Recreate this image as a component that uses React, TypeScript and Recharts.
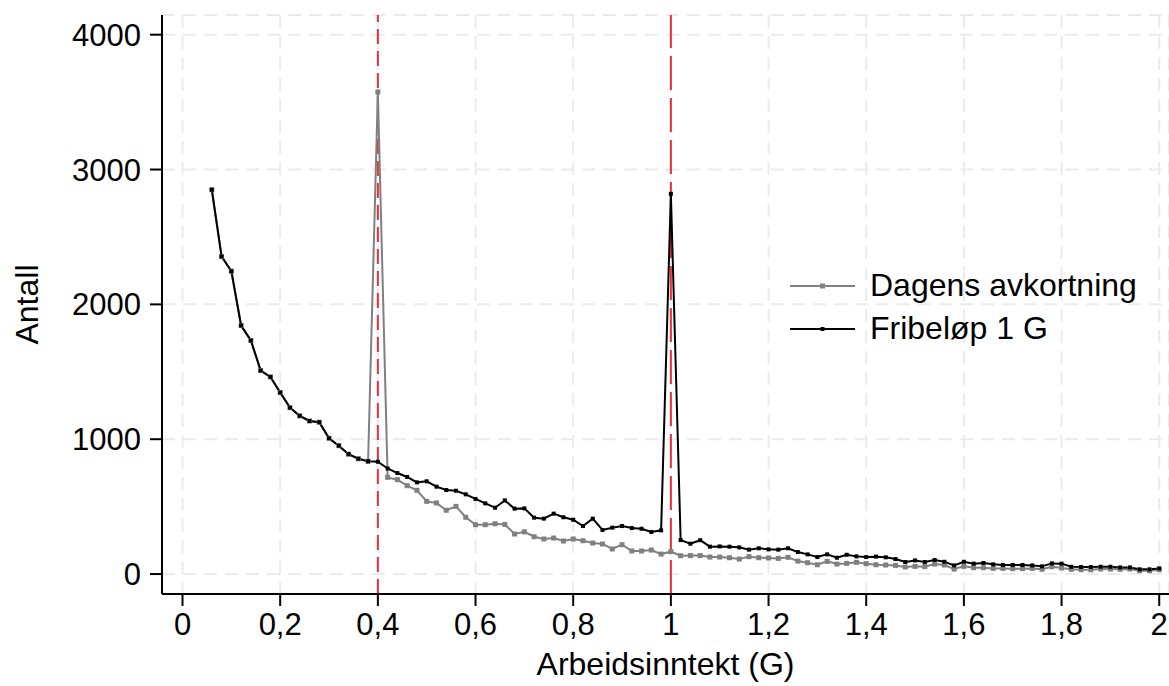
import React from "react";
import { LineChart, Line, XAxis, YAxis, CartesianGrid, ReferenceLine } from "recharts";

const xValues = [
  0.06, 0.08, 0.1, 0.12, 0.14, 0.16, 0.18, 0.2, 0.22, 0.24, 0.26, 0.28, 0.3, 0.32, 0.34, 0.36, 0.38,
  0.4, 0.42, 0.44, 0.46, 0.48, 0.5, 0.52, 0.54, 0.56, 0.58, 0.6, 0.62, 0.64, 0.66, 0.68, 0.7, 0.72,
  0.74, 0.76, 0.78, 0.8, 0.82, 0.84, 0.86, 0.88, 0.9, 0.92, 0.94, 0.96, 0.98, 1.0, 1.02, 1.04, 1.06,
  1.08, 1.1, 1.12, 1.14, 1.16, 1.18, 1.2, 1.22, 1.24, 1.26, 1.28, 1.3, 1.32, 1.34, 1.36, 1.38, 1.4,
  1.42, 1.44, 1.46, 1.48, 1.5, 1.52, 1.54, 1.56, 1.58, 1.6, 1.62, 1.64, 1.66, 1.68, 1.7, 1.72, 1.74,
  1.76, 1.78, 1.8, 1.82, 1.84, 1.86, 1.88, 1.9, 1.92, 1.94, 1.96, 1.98, 2.0,
];

const fribelop = [
  2850, 2355, 2246, 1843, 1732, 1509, 1462, 1346, 1234, 1173, 1135, 1126, 1007, 952, 889, 855, 836,
  833, 783, 749, 720, 680, 688, 648, 623, 618, 591, 557, 524, 492, 546, 485, 487, 418,
  411, 448, 421, 403, 356, 411, 327, 344, 356, 341, 336, 312, 324, 2820, 252, 225, 251,
  203, 205, 203, 198, 181, 191, 183, 181, 191, 163, 146, 126, 146, 121, 143, 131, 126,
  129, 124, 111, 89, 101, 89, 104, 91, 64, 91, 77, 82, 72, 67, 67, 67, 64,
  57, 79, 77, 54, 52, 52, 54, 54, 49, 49, 35, 35, 42,
];

const dagens = [
  2850, 2355, 2246, 1843, 1732, 1509, 1462, 1346, 1234, 1173, 1135, 1126, 1007, 952, 889, 855, 836,
  3575, 717, 700, 655, 621, 539, 527, 473, 502, 421, 366, 366, 373, 368, 297, 313, 277,
  260, 267, 245, 260, 247, 230, 223, 186, 218, 171, 171, 178, 148, 166, 136, 137, 137,
  126, 126, 121, 111, 129, 121, 119, 116, 124, 96, 84, 69, 94, 74, 79, 87, 77,
  69, 67, 64, 52, 57, 55, 74, 67, 37, 57, 47, 47, 42, 42, 40, 40, 42,
  35, 54, 45, 35, 32, 32, 37, 37, 35, 37, 25, 25, 32,
];

const xTicks = [0, 0.2, 0.4, 0.6, 0.8, 1, 1.2, 1.4, 1.6, 1.8, 2];
const yTicks = [0, 1000, 2000, 3000, 4000];
const refLines = [0.4, 1];

const seriesNames = { dagens: "Dagens avkortning", fribelop: "Fribeløp 1 G" };

const data = xValues.map((x, i) => ({ x, dagens: dagens[i], fribelop: fribelop[i] }));

const FONT = "'Liberation Sans', Arial, sans-serif";

const makeDot = (color: string, size: number) => (props: any) => {
  const { cx, cy, index } = props;
  if (cx == null || cy == null) return <g key={`d-${index}`} />;
  return <rect key={`d-${index}`} x={cx - size / 2} y={cy - size / 2} width={size} height={size} fill={color} />;
};

const legendItems = [
  { name: seriesNames.dagens, color: "#808080", size: 5 },
  { name: seriesNames.fribelop, color: "#000000", size: 4 },
];

export default function App() {
  return (
    <div style={{ position: "absolute", left: 0, top: 0, width: 1169, height: 686, background: "#fff" }}>
      <LineChart width={1169} height={686} data={data} margin={{ top: 15, right: 0, bottom: 0, left: 0 }}>
        <CartesianGrid stroke="#ebebeb" strokeWidth={2} strokeDasharray="13 8" />
        <XAxis
          dataKey="x"
          type="number"
          domain={[-0.042, 2.02]}
          ticks={xTicks}
          allowDataOverflow
          tickFormatter={(v: number) => String(v).replace(".", ",")}
          stroke="#000"
          strokeWidth={2}
          tickSize={12}
          tickMargin={7}
          height={92}
          tick={{ fill: "#000", fontSize: 31, fontFamily: FONT }}
          label={{ value: "Arbeidsinntekt (G)", position: "insideBottom", offset: 11, fill: "#000", fontSize: 32, fontFamily: FONT }}
        />
        <YAxis
          type="number"
          domain={[-148, 4146]}
          ticks={yTicks}
          allowDataOverflow
          stroke="#000"
          strokeWidth={2}
          tickSize={12}
          tickMargin={9}
          width={162}
          tick={{ fill: "#000", fontSize: 31, fontFamily: FONT }}
          label={{ value: "Antall", angle: -90, position: "insideLeft", offset: 27, fill: "#000", fontSize: 32, fontFamily: FONT, style: { textAnchor: "middle" } }}
        />
        {refLines.map((x, i) => (
          <ReferenceLine key={i} x={x} stroke="#e8303a" strokeWidth={2} strokeDasharray={i === 0 ? "15 7" : "34 8"} />
        ))}
        <Line
          dataKey="dagens"
          name={seriesNames.dagens}
          stroke="#808080"
          strokeWidth={2}
          dot={makeDot("#808080", 5)}
          activeDot={false}
          isAnimationActive={false}
        />
        <Line
          dataKey="fribelop"
          name={seriesNames.fribelop}
          stroke="#000000"
          strokeWidth={2}
          dot={makeDot("#000000", 4)}
          activeDot={false}
          isAnimationActive={false}
        />
      </LineChart>
      <div style={{ position: "absolute", left: 790, top: 264, fontFamily: FONT, fontSize: 32, color: "#000" }}>
        {legendItems.map((it, i) => (
          <div key={i} style={{ display: "flex", alignItems: "center", height: 43 }}>
            <svg width={80} height={20} style={{ display: "block" }}>
              <line x1={0} y1={10} x2={65} y2={10} stroke={it.color} strokeWidth={2} />
              <rect x={32.5 - it.size / 2} y={10 - it.size / 2} width={it.size} height={it.size} fill={it.color} />
            </svg>
            <span style={{ whiteSpace: "nowrap" }}>{it.name}</span>
          </div>
        ))}
      </div>
    </div>
  );
}
